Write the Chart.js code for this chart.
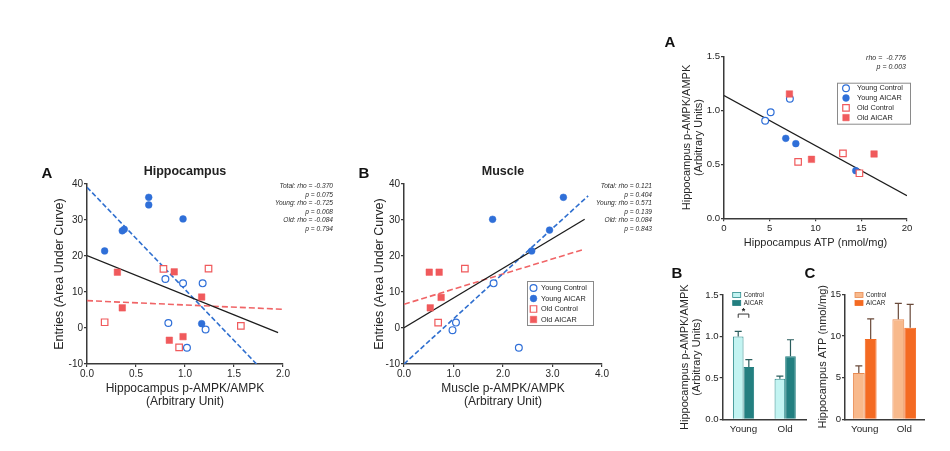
<!DOCTYPE html>
<html><head><meta charset="utf-8">
<script src="https://cdn.jsdelivr.net/npm/chart.js@4.4.0/dist/chart.umd.min.js"></script>
<style>
html,body{margin:0;padding:0;background:#fff;}
body{width:950px;height:451px;position:relative;overflow:hidden;font-family:'Liberation Sans',Arial,sans-serif;color:#222;}
canvas{position:absolute;}
.t{position:absolute;white-space:nowrap;}
.lbl{font-weight:bold;font-size:15px;transform:translate(-50%,-50%);color:#111;}
.ttl{font-weight:bold;font-size:12.5px;transform:translate(-50%,-50%);color:#222;}
.ann{font-style:italic;font-size:6.6px;line-height:8.5px;text-align:right;color:#2a2a2a;}
</style></head><body>
<canvas id="c1" width="270" height="260" style="left:30px;top:160px"></canvas>
<canvas id="c2" width="280" height="260" style="left:340px;top:160px"></canvas>
<canvas id="c3" width="290" height="225" style="left:650px;top:30px"></canvas>
<canvas id="c4" width="160" height="186" style="left:650px;top:265px"></canvas>
<canvas id="c5" width="150" height="186" style="left:790px;top:265px"></canvas>

<div class="t lbl" style="left:47px;top:172px">A</div>
<div class="t ttl" style="left:185px;top:171px">Hippocampus</div>
<div class="t lbl" style="left:364px;top:172px">B</div>
<div class="t ttl" style="left:503px;top:171px">Muscle</div>
<div class="t lbl" style="left:670px;top:41px">A</div>
<div class="t lbl" style="left:677px;top:272px">B</div>
<div class="t lbl" style="left:810px;top:272px">C</div>

<div class="t ann" style="right:617px;top:182px">Total: rho = -0.370<br>p = 0.075<br>Young: rho = -0.725<br>p = 0.008<br>Old: rho = -0.084<br>p = 0.794</div>
<div class="t ann" style="right:298px;top:182px">Total: rho = 0.121<br>p = 0.404<br>Young: rho = 0.571<br>p = 0.139<br>Old: rho = 0.084<br>p = 0.843</div>
<div class="t ann" style="right:44px;top:52.5px;font-size:7px;line-height:9px">rho = &nbsp;-0.776<br>p = 0.003</div>

<script>
// ---------- Panel A: Hippocampus p-AMPK/AMPK vs entries (AUC)
const hipYoungCtrlX  = [0.80, 0.98, 1.18, 0.83, 1.21, 1.02];
const hipYoungCtrlY  = [13.6, 12.4, 12.4, 1.4, -0.4, -5.5];
const hipYoungAicarX = [0.18, 0.36, 0.38, 0.63, 0.63, 0.98, 1.17];
const hipYoungAicarY = [21.4, 27.0, 27.4, 36.3, 34.2, 30.3, 1.2];
const hipOldCtrlX    = [0.18, 0.78, 1.24, 1.57, 0.94];
const hipOldCtrlY    = [1.6, 16.4, 16.5, 0.6, -5.4];
const hipOldAicarX   = [0.31, 0.36, 0.89, 1.17, 0.84, 0.98];
const hipOldAicarY   = [15.5, 5.6, 15.6, 8.6, -3.4, -2.4];
const hipFitTotalX = [0, 1.95], hipFitTotalY = [20.1, -1.3];
const hipFitYoungX = [0, 1.73], hipFitYoungY = [39.1, -10];
const hipFitOldX   = [0, 2.0],  hipFitOldY   = [7.6, 5.2];

// ---------- Panel B: Muscle p-AMPK/AMPK vs entries (AUC)
const musYoungCtrlX  = [1.81, 1.05, 0.98, 2.32];
const musYoungCtrlY  = [12.4, 1.5, -0.6, -5.5];
const musYoungAicarX = [1.79, 3.22, 2.94, 2.58];
const musYoungAicarY = [30.2, 36.3, 27.2, 21.4];
const musOldCtrlX    = [1.23, 0.69];
const musOldCtrlY    = [16.5, 1.5];
const musOldAicarX   = [0.51, 0.71, 0.75, 0.53];
const musOldAicarY   = [15.5, 15.5, 8.5, 5.6];
const musFitTotalX = [0, 3.65], musFitTotalY = [0.1, 30.2];
const musFitYoungX = [0, 3.72], musFitYoungY = [-10, 36.7];
const musFitOldX   = [0, 3.6],  musFitOldY   = [6.6, 21.7];

// ---------- Right panel A: Hippocampus ATP vs p-AMPK/AMPK
const atpYoungCtrlX  = [4.5, 5.1, 7.2];
const atpYoungCtrlY  = [0.906, 0.984, 1.11];
const atpYoungAicarX = [6.75, 7.85, 14.4];
const atpYoungAicarY = [0.742, 0.693, 0.442];
const atpOldCtrlX    = [8.1, 13.0, 14.8];
const atpOldCtrlY    = [0.523, 0.603, 0.418];
const atpOldAicarX   = [7.15, 9.56, 16.4];
const atpOldAicarY   = [1.154, 0.547, 0.597];
const atpFitX = [0, 20], atpFitY = [1.14, 0.21];

// ---------- Bar panels B and C
const barCategories = ['Young', 'Old'];
const pampkControl = [1.00, 0.49], pampkControlErr = [0.06, 0.03];
const pampkAicar   = [0.63, 0.76], pampkAicarErr   = [0.09, 0.20];
const atpControl   = [5.55, 12.0], atpControlErr   = [0.85, 1.9];
const atpAicar     = [9.65, 11.0], atpAicarErr     = [2.4, 2.8];

const groupNames = ['Young Control', 'Young AICAR', 'Old Control', 'Old AICAR'];
const barSeriesNames = ['Control', 'AICAR'];

// ---------- styling
const FONT = "'Liberation Sans', Arial, sans-serif";
const AX = '#3a3a3a', TXT = '#262626';
const BLUE = '#2f6fd8', RED = '#f05a5c';
Chart.defaults.font.family = FONT;
Chart.defaults.color = TXT;

const pts = (xs, ys) => xs.map((x, i) => ({x, y: ys[i]}));
const fixW = w => s => { s.width = w; };
const fixH = h => s => { s.height = h; };

const GROUP_STYLE = [
  {ps:'circle', r:3.4, bg:'#fff', bc:BLUE, bw:1.2},
  {ps:'circle', r:3.4, bg:BLUE,  bc:BLUE, bw:0.5},
  {ps:'rect',   r:4.6, bg:'#fff', bc:RED,  bw:1.2},
  {ps:'rect',   r:4.6, bg:RED,   bc:RED,  bw:0.5}
];

function groupSet(i, data) {
  const s = GROUP_STYLE[i];
  return {label: groupNames[i], data, order: 4 - i,
    pointStyle: s.ps, pointRadius: s.r, pointHoverRadius: s.r,
    backgroundColor: s.bg, borderColor: s.bc, borderWidth: s.bw,
    pointBackgroundColor: s.bg, pointBorderColor: s.bc, pointBorderWidth: s.bw};
}
function fitSet(data, color, dash, width) {
  return {label: 'fit', data, showLine: true, pointRadius: 0, borderColor: color,
    borderWidth: width, borderDash: dash, order: 10, fill: false, tension: 0};
}

function axisCommon(extra) {
  return Object.assign({
    border: {display: true, color: AX, width: 1.5},
    grid: {drawOnChartArea: false, drawTicks: true, tickLength: 3, color: AX, lineWidth: 1.2}
  }, extra);
}

// legend plugin for scatter panels (drawn with the same symbols)
const scatterLegend = {
  id: 'scatterLegend',
  afterDraw(chart, args, o) {
    if (!o || !o.box) return;
    const ctx = chart.ctx, ca = chart.chartArea;
    const bx = ca.left + o.box[0], by = ca.top + o.box[1], bw = o.box[2], bh = o.box[3];
    ctx.save();
    ctx.strokeStyle = '#8a8a8a'; ctx.lineWidth = 1;
    ctx.strokeRect(bx + 0.5, by + 0.5, bw, bh);
    ctx.font = o.fontSize + 'px ' + FONT;
    ctx.textBaseline = 'middle'; ctx.fillStyle = TXT;
    groupNames.forEach((name, i) => {
      const y = by + o.first + i * o.step, x = bx + o.symX;
      const s = GROUP_STYLE[i];
      ctx.beginPath();
      if (s.ps === 'circle') ctx.arc(x, y, s.r, 0, Math.PI * 2);
      else { const h = s.r * Math.SQRT1_2; ctx.rect(x - h, y - h, 2 * h, 2 * h); }
      ctx.fillStyle = s.bg; ctx.fill();
      ctx.strokeStyle = s.bc; ctx.lineWidth = s.bw; ctx.stroke();
      ctx.fillStyle = TXT;
      ctx.fillText(name, bx + o.textX, y);
    });
    ctx.restore();
  }
};

// error bars (upper only) + bar legend + significance bracket
const barExtras = {
  id: 'barExtras',
  afterDatasetsDraw(chart, args, o) {
    const ctx = chart.ctx, ys = chart.scales.y, ca = chart.chartArea;
    ctx.save();
    chart.data.datasets.forEach((ds, di) => {
      const meta = chart.getDatasetMeta(di);
      meta.data.forEach((bar, i) => {
        const top = ys.getPixelForValue(ds.data[i] + ds.errors[i]);
        ctx.strokeStyle = ds.errColor; ctx.lineWidth = 1.2;
        ctx.beginPath();
        ctx.moveTo(bar.x, bar.y); ctx.lineTo(bar.x, top);
        ctx.moveTo(bar.x - 3.5, top); ctx.lineTo(bar.x + 3.5, top);
        ctx.stroke();
      });
    });
    // legend
    ctx.font = '6.3px ' + FONT; ctx.textBaseline = 'middle';
    chart.data.datasets.forEach((ds, di) => {
      const x = ca.left + o.legX, y = ca.top + o.legY + di * 8;
      ctx.fillStyle = ds.backgroundColor; ctx.fillRect(x, y - 2.5, 8, 5);
      ctx.strokeStyle = ds.borderColor; ctx.lineWidth = 0.8; ctx.strokeRect(x, y - 2.5, 8, 5);
      ctx.fillStyle = TXT; ctx.fillText(ds.label, x + 11, y);
    });
    // significance bracket
    if (o.sig) {
      const a = chart.getDatasetMeta(0).data[o.sig.index];
      const b = chart.getDatasetMeta(1).data[o.sig.index];
      const yL = ys.getPixelForValue(o.sig.level), yT = ys.getPixelForValue(o.sig.level - 0.045);
      ctx.strokeStyle = '#333'; ctx.lineWidth = 1;
      ctx.beginPath();
      ctx.moveTo(a.x, yT); ctx.lineTo(a.x, yL); ctx.lineTo(b.x, yL); ctx.lineTo(b.x, yT);
      ctx.stroke();
      ctx.fillStyle = '#222'; ctx.font = 'bold 9px ' + FONT; ctx.textAlign = 'center';
      ctx.fillText('*', (a.x + b.x) / 2, yL - 3);
    }
    ctx.restore();
  }
};

const baseOpts = {responsive: false, animation: false, events: [], devicePixelRatio: 1};

function scatterChart(id, sets, cfg) {
  return new Chart(document.getElementById(id), {
    type: 'scatter',
    data: {datasets: sets},
    plugins: [scatterLegend],
    options: Object.assign({}, baseOpts, {
      layout: {padding: cfg.pad},
      plugins: {legend: {display: false}, tooltip: {enabled: false}, scatterLegend: cfg.legend || {}},
      scales: {
        x: axisCommon({type: 'linear', min: cfg.x.min, max: cfg.x.max, afterFit: fixH(cfg.xh),
          ticks: {stepSize: cfg.x.step, padding: 1, color: TXT, font: {size: cfg.tick}, autoSkip: false, maxRotation: 0,
                  callback: v => v.toFixed(cfg.x.dec)},
          title: {display: true, text: cfg.x.title, color: TXT,
                  font: {size: cfg.x.size, lineHeight: 1.05}, padding: {top: 0, bottom: cfg.x.pb}}}),
        y: axisCommon({type: 'linear', min: cfg.y.min, max: cfg.y.max, afterFit: fixW(cfg.yw),
          ticks: {stepSize: cfg.y.step, padding: 1, color: TXT, font: {size: cfg.tick}, autoSkip: false,
                  callback: v => v.toFixed(cfg.y.dec)},
          title: {display: true, text: cfg.y.title, color: TXT,
                  font: {size: cfg.y.size, lineHeight: 1.1}, padding: {top: cfg.y.pt, bottom: 0}}})
      }
    })
  });
}

// Panel A hippocampus
scatterChart('c1', [
  groupSet(0, pts(hipYoungCtrlX, hipYoungCtrlY)),
  groupSet(1, pts(hipYoungAicarX, hipYoungAicarY)),
  groupSet(2, pts(hipOldCtrlX, hipOldCtrlY)),
  groupSet(3, pts(hipOldAicarX, hipOldAicarY)),
  fitSet(pts(hipFitTotalX, hipFitTotalY), '#1c1c1c', [], 1.3),
  fitSet(pts(hipFitYoungX, hipFitYoungY), '#2f6fcf', [5, 2.5], 1.6),
  fitSet(pts(hipFitOldX, hipFitOldY), '#f06466', [6, 3], 1.6)
], {pad: {left: 0, top: 24, right: 17, bottom: 0}, xh: 56, yw: 57, tick: 10,
    x: {min: 0, max: 2, step: 0.5, dec: 1, title: ['Hippocampus p-AMPK/AMPK', '(Arbitrary Unit)'], size: 12, pb: 12},
    y: {min: -10, max: 40, step: 10, dec: 0, title: 'Entries (Area Under Curve)', size: 12.5, pt: 23.1}});

// Panel B muscle
scatterChart('c2', [
  groupSet(0, pts(musYoungCtrlX, musYoungCtrlY)),
  groupSet(1, pts(musYoungAicarX, musYoungAicarY)),
  groupSet(2, pts(musOldCtrlX, musOldCtrlY)),
  groupSet(3, pts(musOldAicarX, musOldAicarY)),
  fitSet(pts(musFitTotalX, musFitTotalY), '#1c1c1c', [], 1.3),
  fitSet(pts(musFitYoungX, musFitYoungY), '#2f6fcf', [5, 2.5], 1.6),
  fitSet(pts(musFitOldX, musFitOldY), '#f06466', [6, 3], 1.6)
], {pad: {left: 0, top: 24, right: 18, bottom: 0}, xh: 56, yw: 64, tick: 10,
    legend: {box: [123, 97, 66, 44], first: 7, step: 10.5, symX: 6.5, textX: 14, fontSize: 7.3},
    x: {min: 0, max: 4, step: 1, dec: 1, title: ['Muscle p-AMPK/AMPK', '(Arbitrary Unit)'], size: 12, pb: 12},
    y: {min: -10, max: 40, step: 10, dec: 0, title: 'Entries (Area Under Curve)', size: 12.5, pt: 32.4}});

// Right panel A
scatterChart('c3', [
  groupSet(0, pts(atpYoungCtrlX, atpYoungCtrlY)),
  groupSet(1, pts(atpYoungAicarX, atpYoungAicarY)),
  groupSet(2, pts(atpOldCtrlX, atpOldCtrlY)),
  groupSet(3, pts(atpOldAicarX, atpOldAicarY)),
  fitSet(pts(atpFitX, atpFitY), '#1c1c1c', [], 1.3)
], {pad: {left: 0, top: 26.7, right: 33, bottom: 0}, xh: 36.7, yw: 74, tick: 9.6,
    legend: {box: [113, 26, 73, 41], first: 5.5, step: 9.8, symX: 9, textX: 20, fontSize: 7.3},
    x: {min: 0, max: 20, step: 5, dec: 0, title: 'Hippocampus ATP (nmol/mg)', size: 11, pb: 6},
    y: {min: 0, max: 1.5, step: 0.5, dec: 1, title: ['Hippocampus p-AMPK/AMPK', '(Arbitrary Units)'], size: 11, pt: 31}});

function barChart(id, ctrl, ctrlErr, aicar, aicarErr, cfg) {
  return new Chart(document.getElementById(id), {
    type: 'bar',
    data: {labels: barCategories, datasets: [
      {label: barSeriesNames[0], data: ctrl, errors: ctrlErr, backgroundColor: cfg.c[0], borderColor: cfg.c[1],
       borderWidth: 1, errColor: cfg.err, categoryPercentage: cfg.cat, barPercentage: 1},
      {label: barSeriesNames[1], data: aicar, errors: aicarErr, backgroundColor: cfg.c[2], borderColor: cfg.c[3],
       borderWidth: 1, errColor: cfg.err, categoryPercentage: cfg.cat, barPercentage: 1}
    ]},
    plugins: [barExtras],
    options: Object.assign({}, baseOpts, {
      layout: {padding: cfg.pad},
      plugins: {legend: {display: false}, tooltip: {enabled: false}, barExtras: cfg.extras},
      scales: {
        x: {type: 'category', afterFit: fixH(31.7),
            border: {display: true, color: AX, width: 1.5},
            grid: {display: true, drawOnChartArea: false, drawTicks: false},
            ticks: {padding: 4, color: TXT, font: {size: 9.8}, maxRotation: 0}},
        y: axisCommon({type: 'linear', min: 0, max: cfg.ymax, afterFit: fixW(cfg.yw),
            ticks: {stepSize: cfg.ystep, padding: 1, color: TXT, font: {size: 9.6}, autoSkip: false,
                    callback: v => v.toFixed(cfg.dec)},
            title: {display: true, text: cfg.title, color: TXT, font: {size: 11, lineHeight: 1.12},
                    padding: {top: cfg.pt, bottom: 0}}})
      }
    })
  });
}

barChart('c4', pampkControl, pampkControlErr, pampkAicar, pampkAicarErr, {
  c: ['#c3f4f2', '#2b8a8a', '#237f80', '#237f80'], err: '#2a5d5d', cat: 0.51,
  pad: {left: 0, top: 30, right: 4, bottom: 0}, yw: 72.7, ymax: 1.5, ystep: 0.5, dec: 1,
  title: ['Hippocampus p-AMPK/AMPK', '(Arbitrary Units)'], pt: 28.8,
  extras: {legX: 10, legY: 0, sig: {index: 0, level: 1.27}}
});

barChart('c5', atpControl, atpControlErr, atpAicar, atpAicarErr, {
  c: ['#f8b98c', '#e88a52', '#f46a22', '#f46a22'], err: '#6a4a3a', cat: 0.6,
  pad: {left: 0, top: 29.3, right: 16, bottom: 0}, yw: 55, ymax: 15, ystep: 5, dec: 0,
  title: 'Hippocampus ATP (nmol/mg)', pt: 26.8,
  extras: {legX: 10, legY: 0.7}
});
</script>
</body></html>
